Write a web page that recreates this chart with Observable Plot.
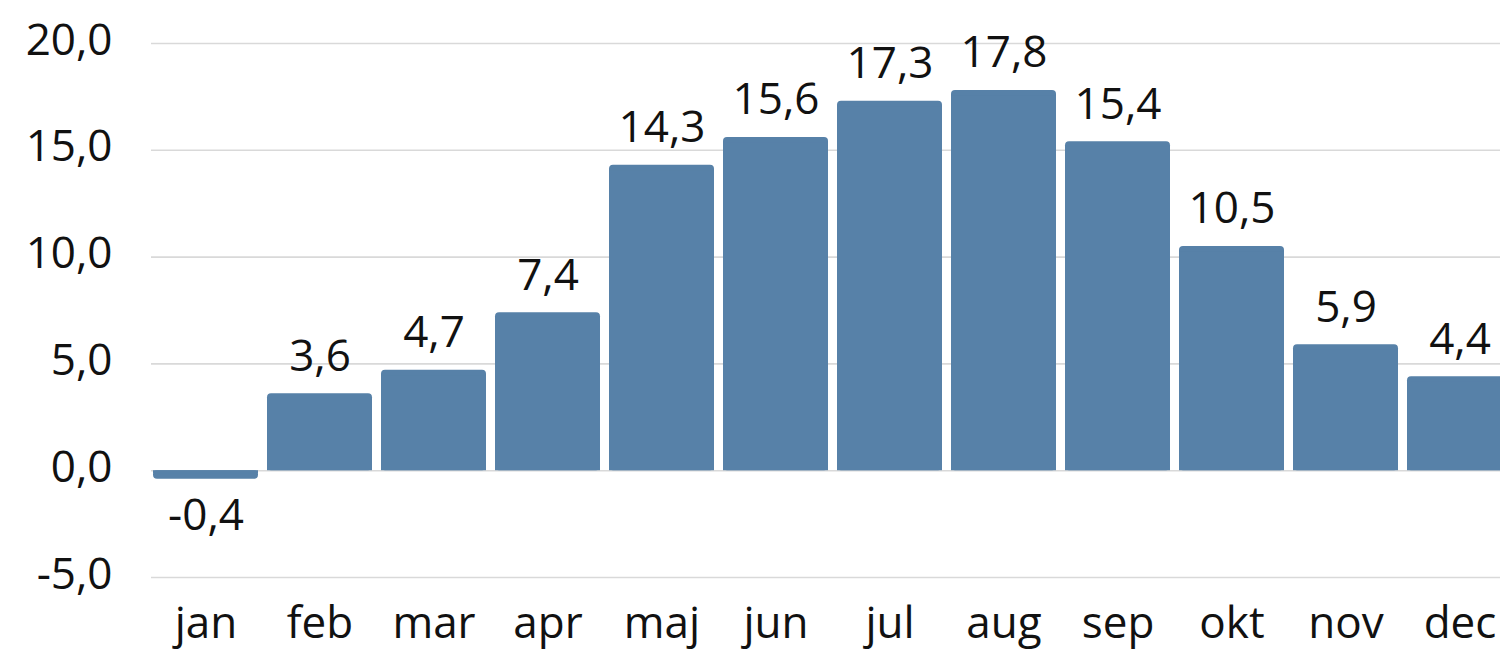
<!DOCTYPE html>
<html>
<head>
<meta charset="utf-8">
<script src="https://cdn.jsdelivr.net/npm/d3@7"></script>
<script src="https://cdn.jsdelivr.net/npm/@observablehq/plot@0.6"></script>
<style>
  html, body { margin: 0; padding: 0; background: #fff; overflow: hidden; }
</style>
</head>
<body>
<div id="chart"></div>
<script>
const months = ["jan", "feb", "mar", "apr", "maj", "jun", "jul", "aug", "sep", "okt", "nov", "dec"];
const temps = [-0.4, 3.6, 4.7, 7.4, 14.3, 15.6, 17.3, 17.8, 15.4, 10.5, 5.9, 4.4];
const yTicks = [-5, 0, 5, 10, 15, 20];

const data = months.map((m, i) => ({month: m, value: temps[i]}));
const fmt = v => v.toFixed(1).replace(".", ",");
const font = "'Open Sans', 'Noto Sans', sans-serif";
const ink = "#111";
const barColor = "#5781a8";

const chart = Plot.plot({
  width: 1500,
  height: 651,
  marginTop: 43,
  marginBottom: 74,
  marginLeft: 151,
  marginRight: 0,
  style: {fontFamily: font, fontSize: "44px", color: ink, background: "#fff"},
  x: {domain: months, range: [146.5, 1519], paddingInner: 0.083, paddingOuter: 0.0415, label: null},
  y: {domain: [-5, 20], label: null},
  marks: [
    Plot.gridY(yTicks, {stroke: "#d9d9d9", strokeOpacity: 1, strokeWidth: 1.6}),
    // rounded outer end
    Plot.barY(data, {x: "month", y: "value", fill: barColor, rx: 4}),
    // square base at the zero line
    Plot.barY(data, {x: "month", y1: 0, y2: d => d.value - Math.sign(d.value) * 0.25, fill: barColor}),
    Plot.text(data.filter(d => d.value >= 0), {
      x: "month", y: "value", text: d => fmt(d.value),
      lineAnchor: "bottom", dy: -23, fontSize: 44, fill: ink, fontFamily: font
    }),
    Plot.text(data.filter(d => d.value < 0), {
      x: "month", y: "value", text: d => fmt(d.value),
      lineAnchor: "top", dy: 20, fontSize: 44, fill: ink, fontFamily: font
    }),
    Plot.axisY(yTicks, {
      tickSize: 0, tickPadding: 39, tickFormat: fmt, fontSize: 44, fill: ink, dy: -3, fontFamily: font
    }),
    Plot.axisX({
      tickSize: 0, tickPadding: 29, fontSize: 44, fill: ink, fontFamily: font
    })
  ]
});
document.getElementById("chart").appendChild(chart);
</script>
</body>
</html>
